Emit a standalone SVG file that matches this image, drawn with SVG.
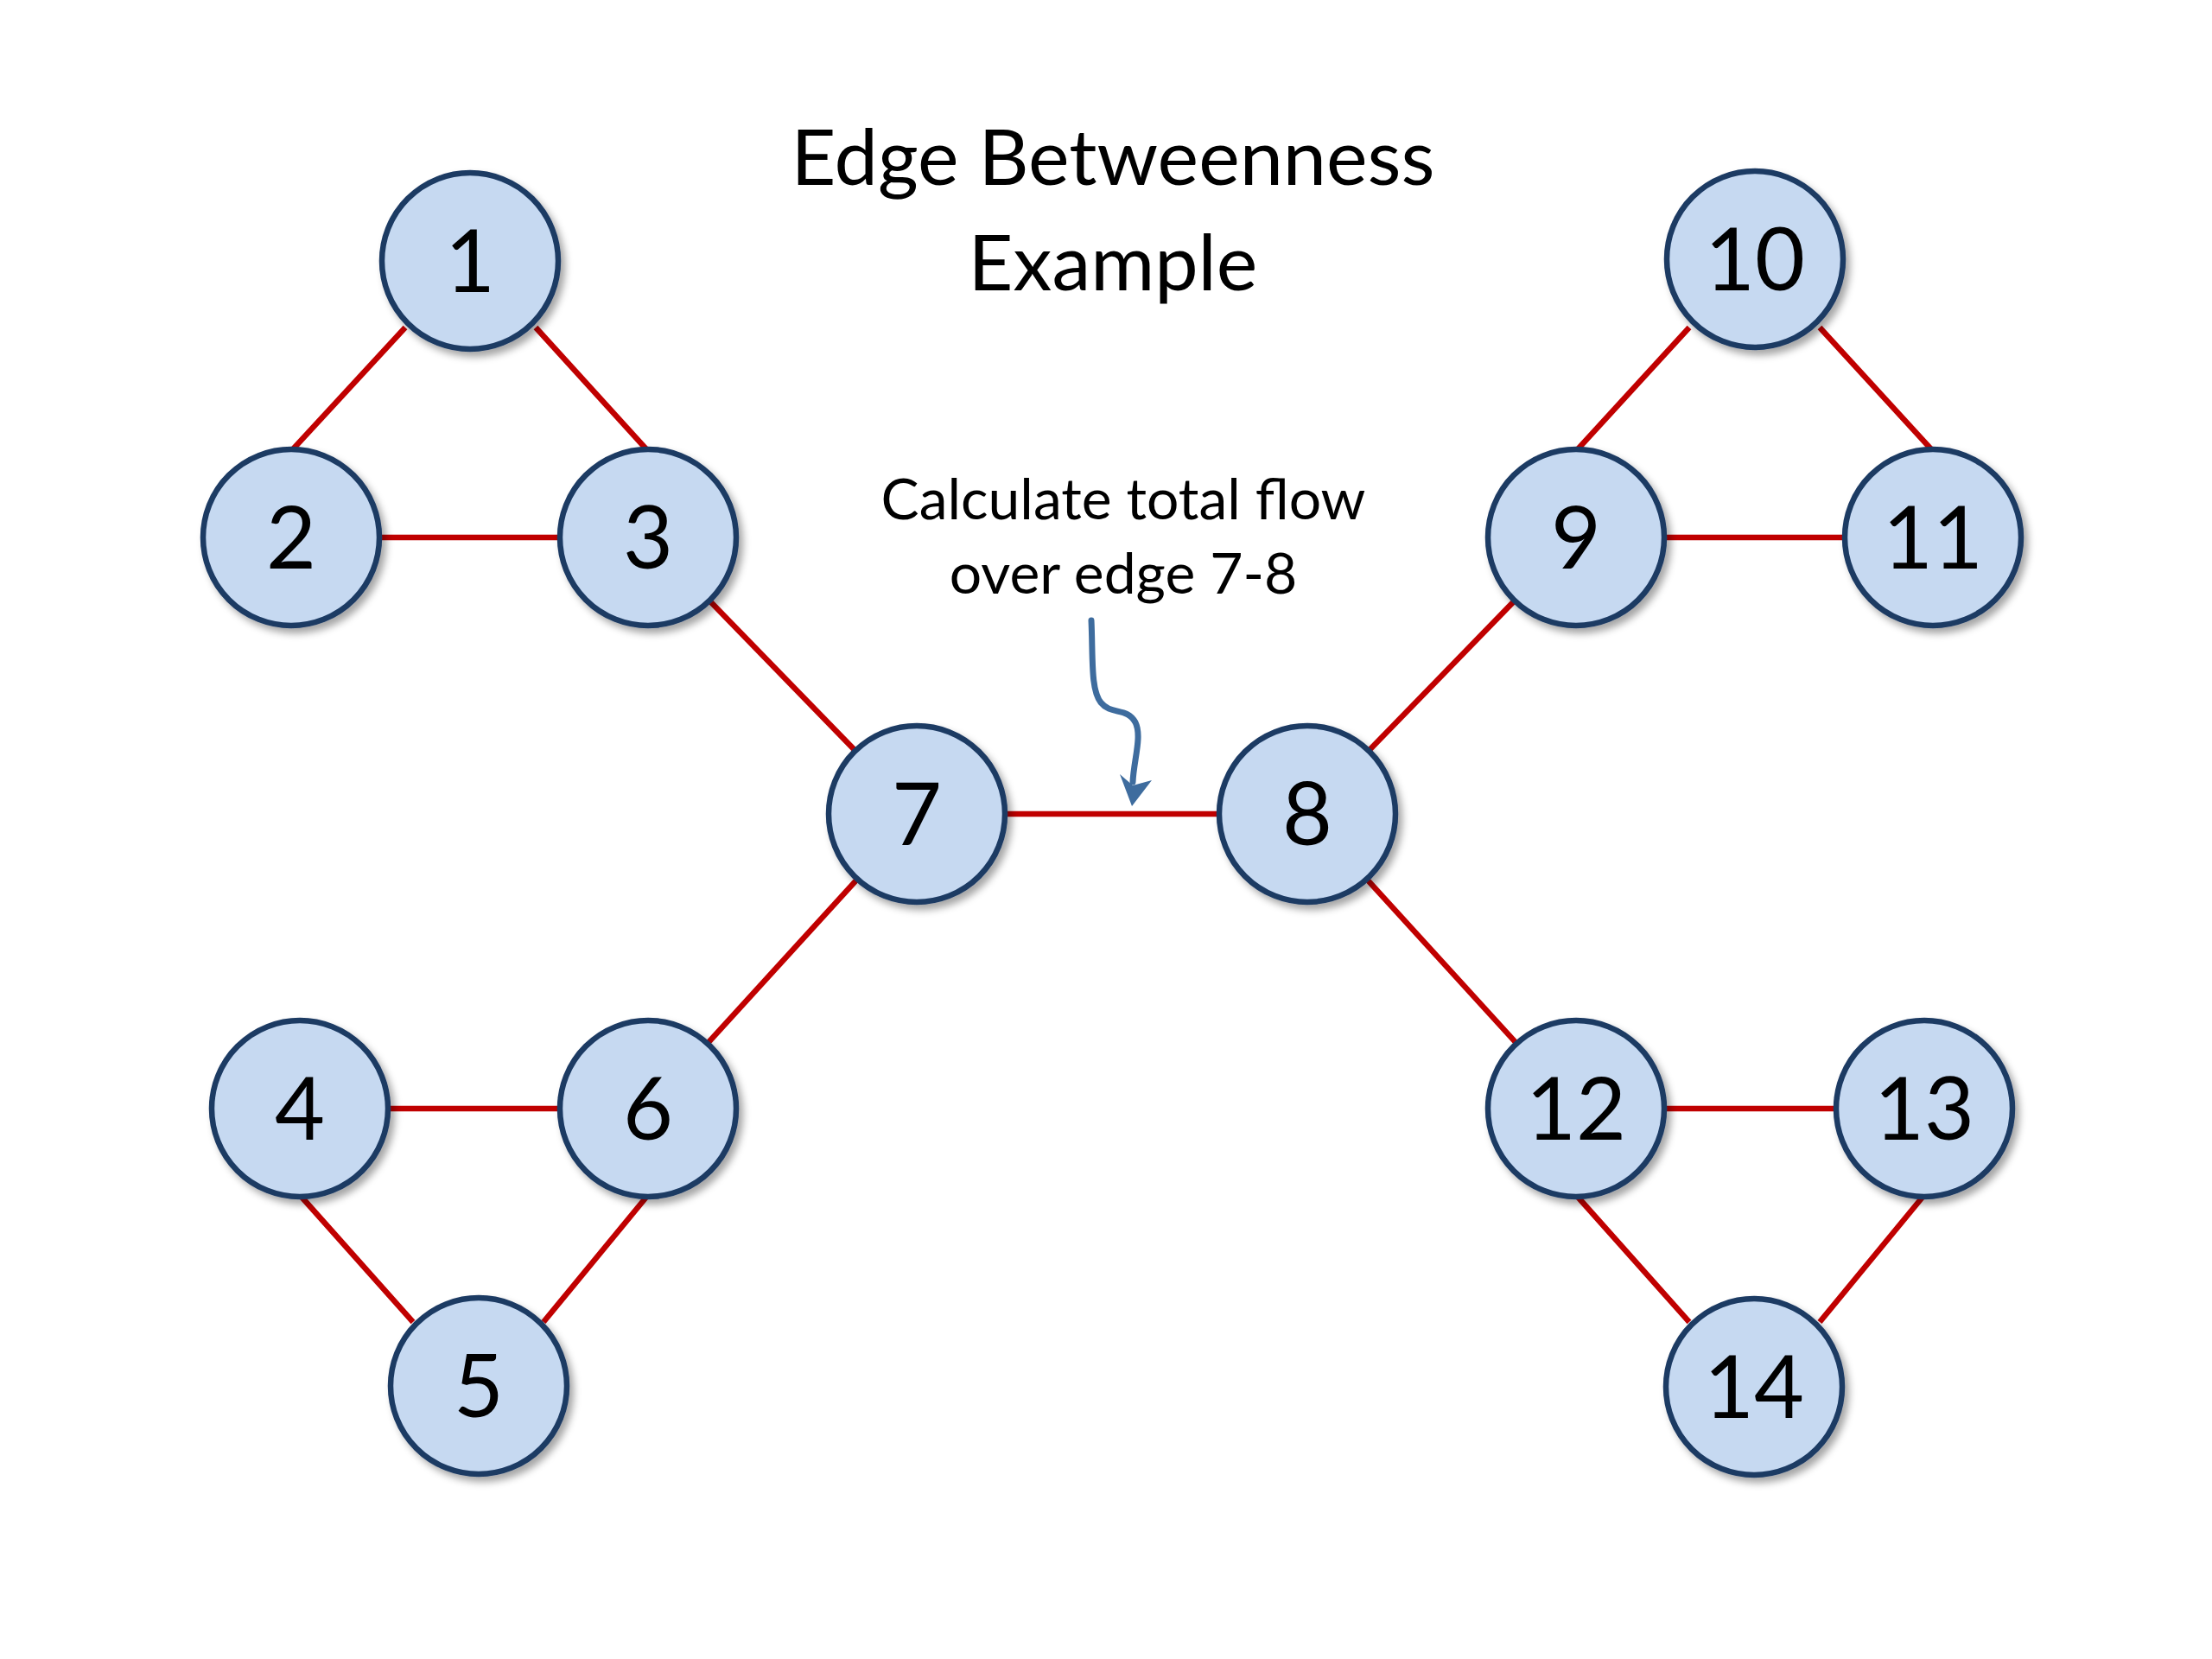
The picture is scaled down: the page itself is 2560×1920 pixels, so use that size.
<svg xmlns="http://www.w3.org/2000/svg" width="2560" height="1920" viewBox="0 0 2560 1920">
  <style>
    .edge { stroke: #C00000; stroke-width: 6.5; fill: none; }
    .node circle { fill: #C6D9F1; stroke: #1C3A64; stroke-width: 6.5; filter: url(#shadow); }
    .node text { font-family: Lato, "Liberation Sans", sans-serif; font-size: 100px; fill: #000; text-anchor: middle; }
    .title { font-family: Lato, "Liberation Sans", sans-serif; font-size: 90px; fill: #000; text-anchor: middle; }
    .note { font-family: Lato, "Liberation Sans", sans-serif; font-size: 66px; fill: #000; text-anchor: middle; }
    .pointer { stroke: #3E6C9E; stroke-width: 7; fill: none; stroke-linecap: round; }
  </style>
  <defs>
    <filter id="shadow" x="-30%" y="-30%" width="160%" height="160%">
      <feDropShadow dx="5" dy="6" stdDeviation="4" flood-color="#000" flood-opacity="0.35"/>
    </filter>
  </defs>
  <rect width="2560" height="1920" fill="#FFFFFF"/>

  <text class="title" x="1288" y="214">Edge Betweenness</text>
  <text class="title" x="1288" y="336">Example</text>
  <text class="note" x="1300" y="601">Calculate total flow</text>
  <text class="note" x="1300" y="687">over edge 7-8</text>

  <g id="connectors">
    <line class="edge" x1="469" y1="379" x2="337" y2="522"/>
    <line class="edge" x1="620" y1="379" x2="750" y2="522"/>
    <line class="edge" x1="337" y1="622" x2="750" y2="622"/>
    <line class="edge" x1="750" y1="622" x2="1061" y2="942"/>
    <line class="edge" x1="1061" y1="942" x2="750" y2="1283"/>
    <line class="edge" x1="347" y1="1283" x2="750" y2="1283"/>
    <line class="edge" x1="347" y1="1383" x2="478" y2="1530"/>
    <line class="edge" x1="750" y1="1383" x2="629" y2="1530"/>
    <line class="edge" x1="1061" y1="942" x2="1513" y2="942"/>
    <line class="edge" x1="1513" y1="942" x2="1824" y2="622"/>
    <line class="edge" x1="1824" y1="522" x2="1955" y2="379"/>
    <line class="edge" x1="2106" y1="379" x2="2237" y2="522"/>
    <line class="edge" x1="1824" y1="622" x2="2237" y2="622"/>
    <line class="edge" x1="1513" y1="942" x2="1824" y2="1283"/>
    <line class="edge" x1="1824" y1="1283" x2="2227" y2="1283"/>
    <line class="edge" x1="1824" y1="1383" x2="1955" y2="1530"/>
    <line class="edge" x1="2227" y1="1383" x2="2106" y2="1530"/>
    <path class="pointer" d="M1263,718 C1265,760 1262,798 1274,813 C1286,828 1304,818 1314,836 C1322,852 1312,880 1311,905"/>
    <polygon points="1310,933 1296,896 1311,909 1333,903" fill="#3E6C9E"/>
  </g>

  <g id="node1" class="node"><circle cx="544" cy="302" r="102"/><text x="544" y="338">1</text></g>
  <g id="node2" class="node"><circle cx="337" cy="622" r="102"/><text x="337" y="658">2</text></g>
  <g id="node3" class="node"><circle cx="750" cy="622" r="102"/><text x="750" y="658">3</text></g>
  <g id="node4" class="node"><circle cx="347" cy="1283" r="102"/><text x="347" y="1319">4</text></g>
  <g id="node5" class="node"><circle cx="554" cy="1604" r="102"/><text x="554" y="1640">5</text></g>
  <g id="node6" class="node"><circle cx="750" cy="1283" r="102"/><text x="750" y="1319">6</text></g>
  <g id="node7" class="node"><circle cx="1061" cy="942" r="102"/><text x="1061" y="978">7</text></g>
  <g id="node8" class="node"><circle cx="1513" cy="942" r="102"/><text x="1513" y="978">8</text></g>
  <g id="node9" class="node"><circle cx="1824" cy="622" r="102"/><text x="1824" y="658">9</text></g>
  <g id="node10" class="node"><circle cx="2031" cy="300" r="102"/><text x="2031" y="336">10</text></g>
  <g id="node11" class="node"><circle cx="2237" cy="622" r="102"/><text x="2237" y="658">11</text></g>
  <g id="node12" class="node"><circle cx="1824" cy="1283" r="102"/><text x="1824" y="1319">12</text></g>
  <g id="node13" class="node"><circle cx="2227" cy="1283" r="102"/><text x="2227" y="1319">13</text></g>
  <g id="node14" class="node"><circle cx="2030" cy="1605" r="102"/><text x="2030" y="1641">14</text></g>
</svg>
